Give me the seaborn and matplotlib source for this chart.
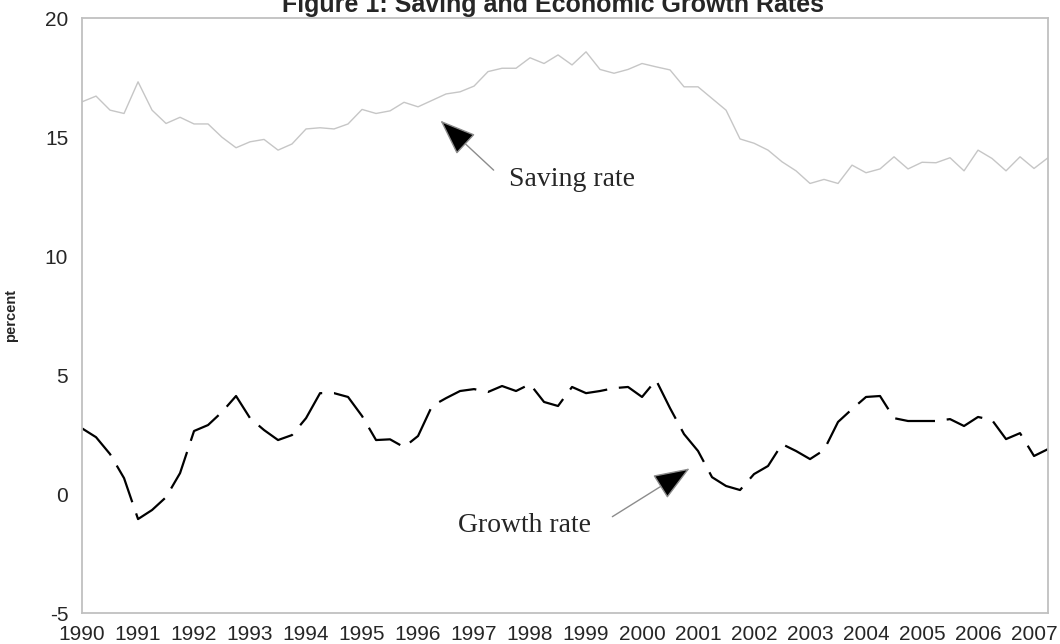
import numpy as np
import pandas as pd
import seaborn as sns
from matplotlib import pyplot as plt

# quarterly observations, 1990Q1 .. 2007Q2
start_year = 1990
n_quarters = 70
year_labels = [str(y) for y in range(1990, 2008)]

saving_rate = [16.48, 16.72, 16.13, 15.99, 17.32, 16.13, 15.57, 15.83, 15.55, 15.55,
               14.99, 14.55, 14.80, 14.90, 14.45, 14.71, 15.34, 15.39, 15.34, 15.55,
               16.16, 15.99, 16.10, 16.46, 16.27, 16.54, 16.81, 16.90, 17.14, 17.75,
               17.89, 17.89, 18.33, 18.09, 18.45, 18.03, 18.58, 17.84, 17.68, 17.84,
               18.09, 17.95, 17.82, 17.11, 17.11, 16.62, 16.13, 14.92, 14.74, 14.45,
               13.96, 13.58, 13.05, 13.22, 13.05, 13.82, 13.50, 13.66, 14.17, 13.66,
               13.94, 13.92, 14.13, 13.58, 14.45, 14.10, 13.58, 14.17, 13.68, 14.13]

growth_rate = [2.76, 2.39, 1.68, 0.67, -1.05, -0.67, -0.13, 0.88, 2.65, 2.90,
               3.45, 4.12, 3.19, 2.69, 2.27, 2.48, 3.19, 4.24, 4.24, 4.08,
               3.28, 2.27, 2.30, 1.97, 2.44, 3.70, 4.03, 4.33, 4.41, 4.29,
               4.54, 4.33, 4.62, 3.87, 3.70, 4.50, 4.24, 4.33, 4.45, 4.50,
               4.08, 4.79, 3.61, 2.52, 1.81, 0.71, 0.34, 0.17, 0.84, 1.18,
               2.10, 1.81, 1.47, 1.85, 3.03, 3.57, 4.08, 4.12, 3.19, 3.07,
               3.07, 3.07, 3.15, 2.86, 3.24, 3.11, 2.31, 2.56, 1.60, 1.89]


def rates_frame():
    years = start_year + np.arange(n_quarters) / 4
    return pd.DataFrame({'year': years, 'saving': saving_rate, 'growth': growth_rate})


def rates_lineplot(df, file_name):
    sns.set_style('white')
    plt.rcParams['font.family'] = ['Liberation Sans', 'DejaVu Sans']
    plt.rcParams['axes.unicode_minus'] = False

    fig, ax = plt.subplots(figsize=(10.6, 6.44), dpi=100)
    fig.subplots_adjust(left=0.0774, right=0.9887, top=0.972, bottom=0.048)

    sns.lineplot(data=df, x='year', y='saving', color='#c6c6c6', lw=1.0, ax=ax)
    sns.lineplot(data=df, x='year', y='growth', color='black', lw=1.6,
                 linestyle=(0, (18, 5.3)), ax=ax)

    ax.set_xlim(1990, 2007.25)
    ax.set_ylim(-5, 20)
    ax.set_xticks(range(1990, 2008))
    ax.set_xticklabels(year_labels)
    ax.set_yticks([-5, 0, 5, 10, 15, 20])
    ax.tick_params(axis='y', direction='in', length=9.4, width=1, color='#b8b8b8',
                   pad=10, labelsize=15)
    ax.tick_params(axis='x', length=0, pad=8.5, labelsize=15)
    for spine in ax.spines.values():
        spine.set_color('#c0c0c0')
        spine.set_linewidth(1.3)

    ax.set_xlabel('')
    ax.set_ylabel('percent', weight='bold', size=10.5)
    ax.yaxis.set_label_coords(-0.066, 0.5)

    head = '-|>,head_length=1.15,head_width=0.44'
    ax.annotate('', xy=(1996.40, 15.69), xytext=(1997.35, 13.61),
                arrowprops=dict(arrowstyle=head, mutation_scale=20, fc='black',
                                ec='#8c8c8c', lw=1, shrinkA=0, shrinkB=0))
    ax.text(1998.75, 12.95, 'Saving rate', family='Liberation Serif', size=20,
            ha='center', va='baseline')

    ax.annotate('', xy=(2000.85, 1.08), xytext=(1999.47, -0.95),
                arrowprops=dict(arrowstyle=head, mutation_scale=20, fc='black',
                                ec='#8c8c8c', lw=1, shrinkA=0, shrinkB=0))
    ax.text(1997.91, -1.58, 'Growth rate', family='Liberation Serif', size=20,
            ha='center', va='baseline')

    fig.text(0.5217, 1 - 12 / 644, 'Figure 1: Saving and Economic Growth Rates',
             ha='center', va='baseline', weight='bold', size=18)

    fig.savefig(file_name, dpi=100)
    plt.close()


if __name__ == "__main__":
    rates_lineplot(rates_frame(), 'out.png')
